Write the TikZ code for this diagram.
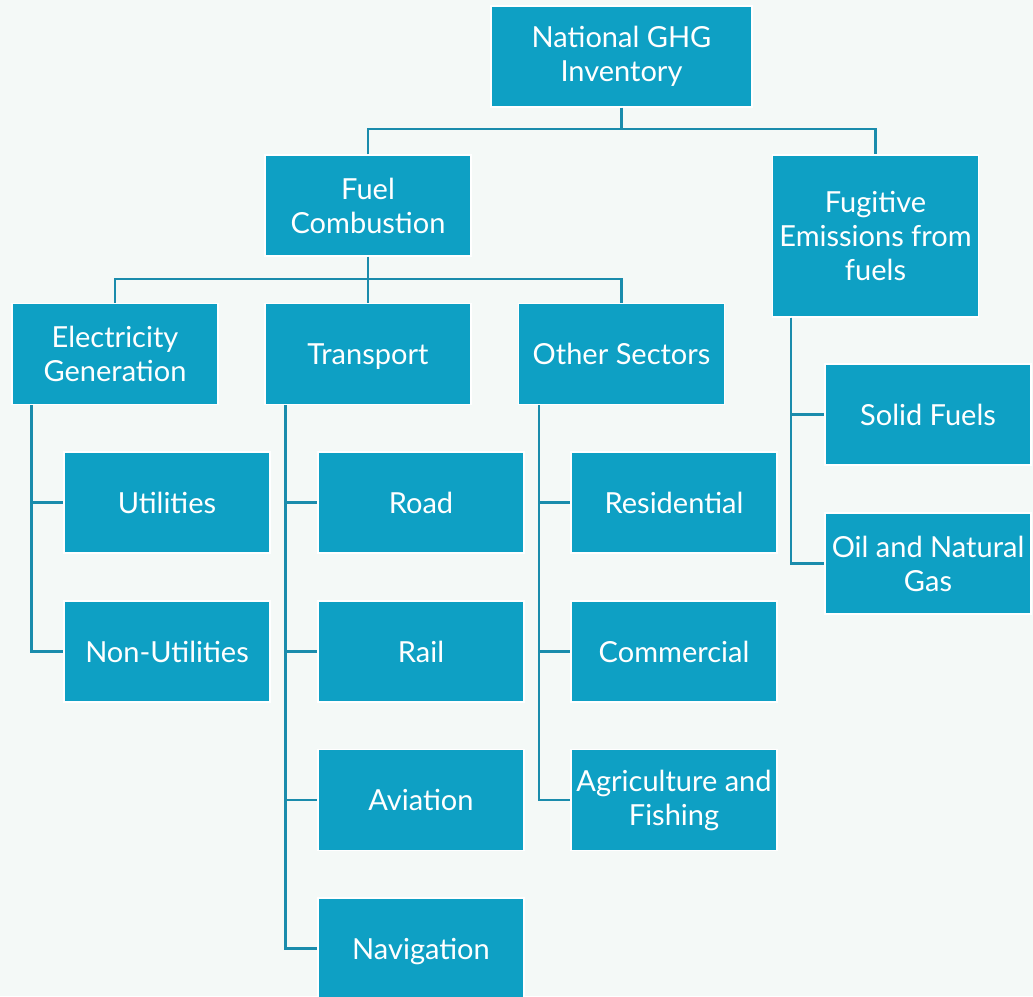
\documentclass[tikz,border=0pt]{standalone}
\usepackage{fontspec}
\setmainfont{Lato}
\definecolor{bgc}{HTML}{F4F9F7}
\definecolor{boxc}{HTML}{0EA0C4}
\definecolor{linec}{HTML}{1A8CAC}
\tikzset{
  box/.style={rectangle, fill=boxc, draw=white, line width=1.2pt, text=white,
    minimum width=206pt, minimum height=101pt, inner sep=0pt, align=center,
    font=\fontsize{29}{34}\selectfont},
  nodesc/.style={text depth=0pt},
  conn/.style={draw=linec, line width=2.4pt}
}
\begin{document}
\begin{tikzpicture}[x=1pt,y=-1pt]
\useasboundingbox (0,0) rectangle (1033,996);
\fill[bgc] (0,0) rectangle (1033,996);
\clip (0,0) rectangle (1033,996);
% top level
\node[box, minimum width=261pt] (nat) at (621.5,56.5) {National GHG\\Inventory};
\node[box] (fc) at (368,205.5) {Fuel\\Combustion};
\node[box, minimum height=162pt] (fug) at (875.5,236) {Fugitive\\Emissions from\\fuels};
% second level
\node[box] (eg) at (115,354) {Electricity\\Generation};
\node[box, nodesc] (tr) at (368,354) {Transport};
\node[box] (os) at (621.5,354) {Other Sectors};
% leaves
\node[box] (ut) at (167,502.5) {Utilities};
\node[box] (nu) at (167,651.5) {Non-Utilities};
\node[box] (rd) at (421,502.5) {Road};
\node[box] (rl) at (421,651.5) {Rail};
\node[box] (av) at (421,800) {Aviation};
\node[box, nodesc] (nv) at (421,948.5) {Navigation};
\node[box] (rs) at (674,502.5) {Residential};
\node[box] (cm) at (674,651.5) {Commercial};
\node[box] (ag) at (674,800) {Agriculture and\\Fishing};
\node[box] (sf) at (928,414.5) {Solid Fuels};
\node[box] (on) at (928,563.5) {Oil and Natural\\Gas};
% connectors: top
\coordinate (j1) at (621.5,129);
\draw[conn] (nat.south) -- (j1);
\draw[conn] (fc.north) |- (j1) -| (fug.north);
\coordinate (j2) at (368,279);
\draw[conn] (fc.south) -- (j2);
\draw[conn] (eg.north) |- (j2) -| (os.north);
\draw[conn] (tr.north) -- (j2);
% side branches
\coordinate (eb) at ([xshift=20pt]eg.south west);
\draw[conn] (eb) |- (ut.west);
\draw[conn] (eb) |- (nu.west);
\coordinate (tb) at ([xshift=21pt]tr.south west);
\draw[conn] (tb) |- (rd.west);
\draw[conn] (tb) |- (rl.west);
\draw[conn] (tb) |- (av.west);
\draw[conn] (tb) |- (nv.west);
\coordinate (ob) at ([xshift=21pt]os.south west);
\draw[conn] (ob) |- (rs.west);
\draw[conn] (ob) |- (cm.west);
\draw[conn] (ob) |- (ag.west);
\coordinate (fb) at ([xshift=19pt]fug.south west);
\draw[conn] (fb) |- (sf.west);
\draw[conn] (fb) |- (on.west);
\end{tikzpicture}
\end{document}
